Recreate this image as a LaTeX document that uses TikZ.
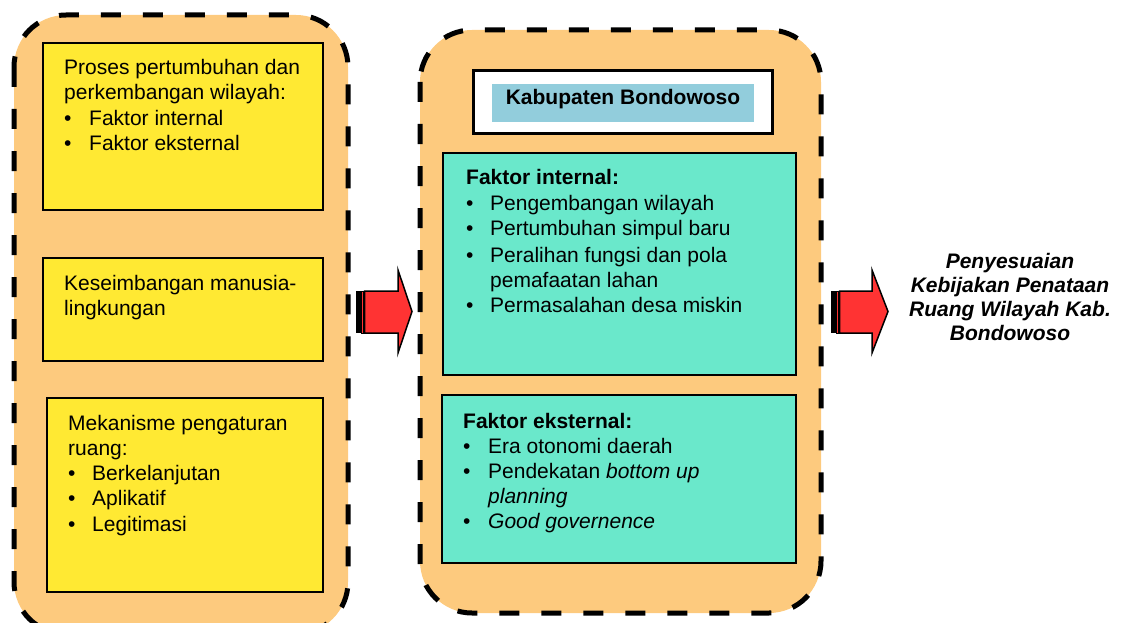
\documentclass[tikz,border=0pt]{standalone}
\usepackage{fontspec}
\setmainfont{Liberation Sans}
\definecolor{orfill}{RGB}{253,202,126}
\definecolor{yelfill}{RGB}{255,233,51}
\definecolor{tealfill}{RGB}{106,232,203}
\definecolor{bluefill}{RGB}{146,205,220}
\definecolor{arrred}{RGB}{255,51,51}
\newcommand\mybul[1][24pt]{\makebox[#1][l]{\textbullet}}
\tikzset{
  container/.style={fill=orfill, draw=black, line width=5pt, dash pattern=on 20pt off 22pt, rounded corners=52pt},
  ybox/.style={fill=yelfill, draw=black, line width=1.5pt},
  tbox/.style={fill=tealfill, draw=black, line width=1.5pt},
  txt/.style={anchor=base west, inner sep=0pt, font=\fontsize{21}{25}\selectfont},
  ctxt/.style={anchor=base, inner sep=0pt, font=\fontsize{21}{25}\selectfont\bfseries\itshape},
  arrbody/.style={fill=arrred, draw=black, line width=1.5pt, line join=miter},
}
\begin{document}
\begin{tikzpicture}[x=1pt,y=-1pt]
\useasboundingbox (0,0) rectangle (1121,623);

% containers
\draw[container] (14,15) rectangle (348,634);
\draw[container] (420,30) rectangle (821,613);

% left yellow boxes
\draw[ybox] (43,43) rectangle (323,210);
\draw[ybox] (43,258) rectangle (323,361);
\draw[ybox] (47,398) rectangle (323,592);

\node[txt] (a1) at (64,75) {Proses pertumbuhan dan};
\node[txt] (a2) at (64,100) {perkembangan wilayah:};
\node[txt] (a3) at (64,125) {\mybul[25pt]Faktor internal};
\node[txt] (a4) at (64,150) {\mybul[25pt]Faktor eksternal};

\node[txt] (b1) at (64,290) {Keseimbangan manusia-};
\node[txt] (b2) at (64,315) {lingkungan};

\node[txt] (c1) at (68,430) {Mekanisme pengaturan};
\node[txt] (c2) at (68,455) {ruang:};
\node[txt] (c3) at (68,480) {\mybul Berkelanjutan};
\node[txt] (c4) at (68,505) {\mybul Aplikatif};
\node[txt] (c5) at (68,531) {\mybul Legitimasi};

% title box
\draw[fill=white, draw=black, line width=3pt] (473,71) rectangle (772,134);
\fill[bluefill] (492,84) rectangle (754,122);
\node[anchor=base, inner sep=0pt, font=\fontsize{21}{25}\selectfont\bfseries] (title) at (623,105) {Kabupaten Bondowoso};

% teal boxes
\draw[tbox] (443,153) rectangle (796,375);
\draw[tbox] (442,395) rectangle (796,563);

\node[txt] (d1) at (466,184) {\textbf{Faktor internal:}};
\node[txt] (d2) at (466,210) {\mybul Pengembangan wilayah};
\node[txt] (d3) at (466,235) {\mybul Pertumbuhan simpul baru};
\node[txt] (d4) at (466,262) {\mybul Peralihan fungsi dan pola};
\node[txt] (d5) at (490,287) {pemafaatan lahan};
\node[txt] (d6) at (466,312) {\mybul Permasalahan desa miskin};

\node[txt] (e1) at (463,428) {\textbf{Faktor eksternal:}};
\node[txt] (e2) at (463,453) {\mybul[25pt]Era otonomi daerah};
\node[txt] (e3) at (463,478) {\mybul[25pt]Pendekatan \textit{bottom up}};
\node[txt] (e4) at (488,503) {\textit{planning}};
\node[txt] (e5) at (463,528) {\mybul[25pt]\textit{Good governence}};

% arrow 1
\fill[black] (356,291) rectangle (361,333);
\draw[fill=arrred, draw=black, line width=1pt] (361,291) rectangle (363.5,333);
\draw[arrbody] (364.5,291) -- (398,291) -- (398,270) -- (412,311.5) -- (398,353) -- (398,333) -- (364.5,333) -- cycle;

% arrow 2
\fill[black] (831,291) rectangle (836,333);
\draw[fill=arrred, draw=black, line width=1pt] (836,291) rectangle (838.5,333);
\draw[arrbody] (839.5,291) -- (872,291) -- (872,270) -- (888,311.5) -- (872,353) -- (872,333) -- (839.5,333) -- cycle;

% result text
\node[ctxt] (r1) at (1010,268) {Penyesuaian};
\node[ctxt] (r2) at (1010,292) {Kebijakan Penataan};
\node[ctxt] (r3) at (1010,316) {Ruang Wilayah Kab.};
\node[ctxt] (r4) at (1010,340) {Bondowoso};
\end{tikzpicture}
\end{document}
